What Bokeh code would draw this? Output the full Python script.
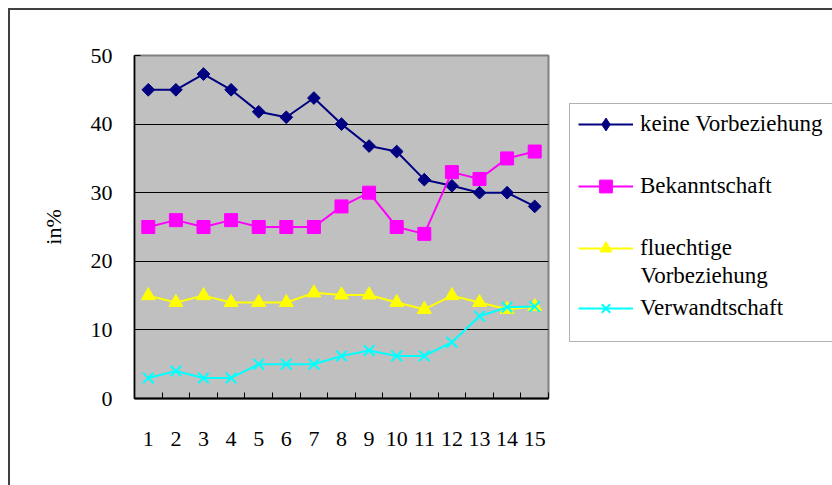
import math
from bokeh.plotting import figure
from bokeh.layouts import row
from bokeh.models import (Range1d, FixedTicker, Legend, LegendItem, BoxAnnotation, Label)
from bokeh.embed import file_html
from bokeh.resources import INLINE

# ---- data ----
periods = list(range(1, 16))
tick_labels = [str(i) for i in periods]
keine_vorbeziehung = [45, 45, 47.3, 45, 41.8, 41, 43.8, 40, 36.8, 36, 31.9, 31, 30, 30, 28]
bekanntschaft = [25, 26, 25, 26, 25, 25, 25, 28, 30, 25, 24, 33, 32, 35, 36]
fluechtige = [15, 14, 15, 14, 14, 14, 15.4, 15.1, 15.1, 14, 13, 15, 14, 13, 13.4]
verwandtschaft = [3, 4, 3, 3, 5, 5, 5, 6.2, 7, 6.2, 6.2, 8.2, 12, 13.3, 13.4]
y_ticks = [0, 10, 20, 30, 40, 50]
grid_ticks = [10, 20, 30, 40]
series_names = ["keine Vorbeziehung", "Bekanntschaft", "fluechtige", "Verwandtschaft"]
series_name_line2 = "Vorbeziehung"

FONT = "Liberation Serif"
colors = ["#000080", "#FF00FF", "#FFFF00", "#00FFFF"]
data = [keine_vorbeziehung, bekanntschaft, fluechtige, verwandtschaft]

FRAME_H = 343
TOP, BOTTOM = 45, 87


def add_series(fig, k, ys, c, visible=True):
    r_line = fig.line(periods, ys, line_color=c, line_width=2, visible=visible)
    if k == 0:
        if visible:
            r_m = fig.scatter(periods, ys, marker="square", size=9, angle=math.pi / 4,
                              fill_color=c, line_color=c)
        else:
            r_m = fig.scatter(periods, ys, marker="diamond", size=15,
                              fill_color=c, line_color=c, visible=False)
    elif k == 1:
        r_m = fig.scatter(periods, ys, marker="square", size=13, fill_color=c, line_color=c,
                          visible=visible)
    elif k == 2:
        r_m = fig.scatter(periods, ys, marker="triangle", size=14, fill_color=c, line_color=c,
                          visible=visible)
    else:
        r_m = fig.scatter(periods, ys, marker="x", size=15, line_color=c, line_width=2,
                          visible=visible)
    return [r_line, r_m]


# ---------------- main chart ----------------
p = figure(frame_width=414, frame_height=FRAME_H, output_backend="svg", toolbar_location=None,
           x_range=Range1d(0.5, 15.5), y_range=Range1d(0, 50),
           min_border_left=124, min_border_right=2, min_border_top=TOP, min_border_bottom=BOTTOM)
p.background_fill_color = "#C0C0C0"
p.border_fill_color = "white"
p.outline_line_color = "#808080"
p.outline_line_width = 2

xa = p.xaxis[0]
xa.ticker = FixedTicker(ticks=periods, minor_ticks=[i + 0.5 for i in range(0, 16)])
xa.major_label_overrides = {i: s for i, s in zip(periods, tick_labels)}
xa.major_tick_in = 0
xa.major_tick_out = 0
xa.minor_tick_in = 6
xa.minor_tick_out = 0
xa.minor_tick_line_color = "black"
xa.axis_line_color = "black"
xa.axis_line_width = 2
xa.major_label_standoff = 33
xa.major_label_text_font = FONT
xa.major_label_text_font_size = "22px"
xa.major_label_text_color = "black"

ya = p.yaxis[0]
ya.ticker = FixedTicker(ticks=y_ticks)
ya.major_tick_in = 6
ya.major_tick_out = 0
ya.minor_tick_in = 0
ya.minor_tick_out = 0
ya.major_tick_line_color = "black"
ya.axis_line_color = "black"
ya.axis_line_width = 1.5
ya.major_label_standoff = 22
ya.major_label_text_font = FONT
ya.major_label_text_font_size = "22px"
ya.major_label_text_color = "black"
ya.axis_label = "in%"
ya.axis_label_text_font = FONT
ya.axis_label_text_font_size = "22px"
ya.axis_label_text_font_style = "normal"
ya.axis_label_text_color = "black"
ya.axis_label_standoff = 22

p.xgrid.visible = False
p.ygrid.ticker = FixedTicker(ticks=grid_ticks)
p.ygrid.grid_line_color = "black"
p.ygrid.grid_line_width = 1

for k, (ys, c) in enumerate(zip(data, colors)):
    add_series(p, k, ys, c)

# ---------------- legend panel ----------------
LW = 282
q = figure(frame_width=LW, frame_height=FRAME_H, output_backend="svg", toolbar_location=None,
           x_range=Range1d(0, LW), y_range=Range1d(0, FRAME_H),
           x_axis_type=None, y_axis_type=None,
           min_border_left=0, min_border_right=0, min_border_top=TOP, min_border_bottom=BOTTOM)
q.outline_line_color = None
q.background_fill_color = "white"
q.border_fill_color = "white"

FRAME_BOTTOM_PAGE = 10 + TOP + FRAME_H   # page y of the plot-area bottom

def up(page_y):
    return FRAME_BOTTOM_PAGE - page_y

# legend frame
q.add_layout(BoxAnnotation(left=19, right=LW + 20, bottom=up(341), top=up(103),
                           fill_color="white", fill_alpha=1,
                           line_color="black", line_width=1))

row_centers = [124, 186, 248, 308]      # page y of the legend rows
glyph_heights = [32, 32, 30, 30]
LABEL_H = 26
for k, (name, ys, c) in enumerate(zip(series_names, data, colors)):
    rs = add_series(q, k, ys, c, visible=False)
    gh = glyph_heights[k]
    h = max(gh, LABEL_H)
    lg = Legend(items=[LegendItem(label=name, renderers=rs)],
                location=(28, up(row_centers[k]) - h / 2))
    lg.border_line_color = None
    lg.background_fill_alpha = 0
    lg.label_text_font = FONT
    lg.label_text_font_size = "23px"
    lg.label_text_color = "black"
    lg.glyph_width = 55
    lg.glyph_height = gh
    lg.label_height = LABEL_H
    lg.label_standoff = 7
    lg.padding = 0
    lg.margin = 0
    q.add_layout(lg, "center")

q.add_layout(Label(x=90, y=up(275), text=series_name_line2, text_font=FONT,
                   text_font_size="23px", text_color="black", text_baseline="middle"))

layout = row(p, q, styles={"border-left": "2px solid #404040", "border-top": "2px solid #404040",
                           "margin-left": "8px", "margin-top": "8px"})

open("out.html", "w").write(file_html(layout, INLINE))
